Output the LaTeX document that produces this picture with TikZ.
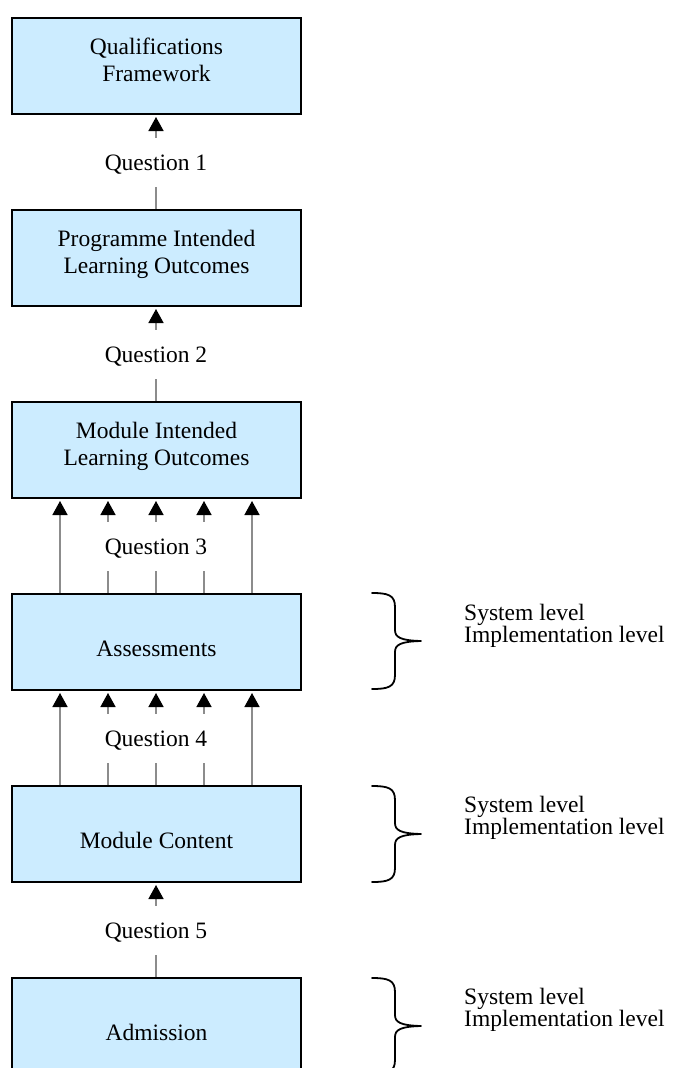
\documentclass[tikz,border=0pt]{standalone}
\usepackage{fontspec}
\setmainfont{Liberation Serif}
\usetikzlibrary{arrows.meta}
\definecolor{boxblue}{RGB}{204,236,255}
\definecolor{conngray}{RGB}{140,140,140}
\begin{document}
\begin{tikzpicture}[x=1pt,y=-1pt,
  box/.style={draw=black, line width=2pt, fill=boxblue, minimum width=289pt, minimum height=96pt, inner sep=0pt, align=center, font=\fontsize{23.5}{27}\selectfont},
  onebox/.style={box, text height=28pt, text depth=0pt},
  qlabel/.style={minimum height=49pt, inner sep=0pt, text height=15pt, text depth=0pt, font=\fontsize{23.5}{27}\selectfont},
  conn/.style={draw=conngray, line width=1.5pt},
  arr/.style={conn, -{Triangle[length=14pt,width=15pt,color=black]}, shorten >=2pt},
  lev/.style={anchor=west, align=left, inner sep=0pt, font=\fontsize{23.5}{20}\selectfont},
  brc/.style={draw=black, line width=1.8pt, line cap=round, line join=round}
]
\useasboundingbox (0,0) rectangle (672,1068);
\clip (0,0) rectangle (672,1068);

% boxes
\node[box] (b1) at (156.5,66)   {Qualifications\\Framework\\[-15pt]\mbox{}};
\node[box] (b2) at (156.5,258)  {Programme Intended\\Learning Outcomes\\[-15pt]\mbox{}};
\node[box] (b3) at (156.5,450)  {Module Intended\\Learning Outcomes\\[-15pt]\mbox{}};
\node[onebox] (b4) at (156.5,642)  {Assessments};
\node[onebox] (b5) at (156.5,834)  {Module Content};
\node[onebox] (b6) at (156.5,1026) {Admission};

% question labels
\node[qlabel] (q1) at (156,162.5) {Question 1};
\node[qlabel] (q2) at (156,354.5) {Question 2};
\node[qlabel] (q3) at (156,546.5) {Question 3};
\node[qlabel] (q4) at (156,738.5) {Question 4};
\node[qlabel] (q5) at (156,930.5) {Question 5};

% single connectors
\foreach \lo/\q/\up in {b2/q1/b1, b3/q2/b2, b6/q5/b5}{
  \draw[arr] (\q.north) -- ([xshift=-0.5pt]\up.south);
  \draw[conn] ([xshift=-0.5pt]\lo.north) -- (\q.south);
}

% multiple connectors
\foreach \lo/\q/\up in {b4/q3/b3, b5/q4/b4}{
  \foreach \dx in {-96,96}{
    \draw[arr] ([xshift=\dx pt-0.5pt]\lo.north) -- ([xshift=\dx pt-0.5pt]\up.south);
  }
  \foreach \dx in {-48,0,48}{
    \draw[arr] ([xshift=\dx pt]\q.north) -- ([xshift=\dx pt-0.5pt]\up.south);
    \draw[conn] ([xshift=\dx pt-0.5pt]\lo.north) -- ([xshift=\dx pt]\q.south);
  }
}

% braces
\foreach \T in {593,786,978}{
  \draw[brc] (372,\T) .. controls (388,\T) and (395,\T+2) .. (395,\T+14)
    -- (395,\T+37) .. controls (395,\T+44) and (400,\T+47.5) .. (421,\T+48)
    .. controls (400,\T+48.5) and (395,\T+52) .. (395,\T+59)
    -- (395,\T+82) .. controls (395,\T+94) and (388,\T+96) .. (372,\T+96);
}

% level texts
\node[lev] (l4) at (464,626) {System level\\Implementation level};
\node[lev] (l5) at (464,818) {System level\\Implementation level};
\node[lev] (l6) at (464,1010) {System level\\Implementation level};
\end{tikzpicture}
\end{document}
